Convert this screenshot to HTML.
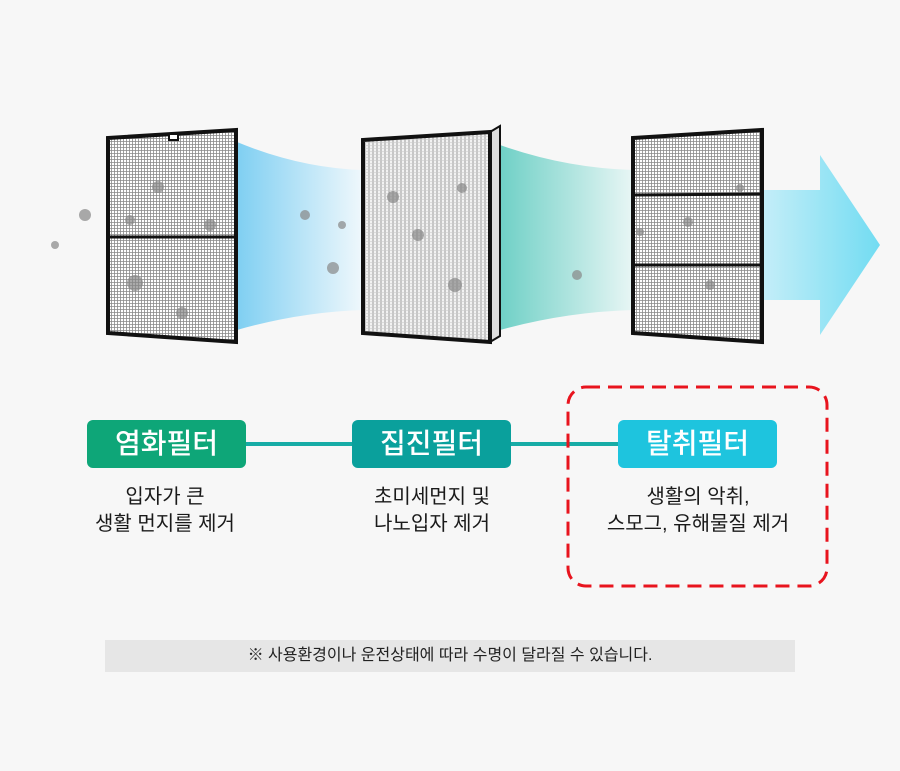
<!DOCTYPE html>
<html><head><meta charset="utf-8"><style>
body{margin:0;background:#f7f7f7;}
#c{position:relative;width:900px;height:771px;overflow:hidden;font-family:"Liberation Sans","Noto Sans CJK KR",sans-serif;}
.pill{position:absolute;top:420px;width:159px;height:48px;border-radius:6px;color:#fff;font-size:28px;text-align:center;line-height:48px;font-weight:500;}
.d{position:absolute;top:484px;width:300px;text-align:center;font-size:20px;line-height:27px;color:#1a1a1a;}
</style></head><body><div id="c">
<svg width="900" height="771" style="position:absolute;left:0;top:0">
<defs>
<pattern id="m" width="3" height="3" patternUnits="userSpaceOnUse"><rect width="3" height="3" fill="#fff"/><path d="M0 .5H3M.5 0V3" stroke="#888" stroke-width="0.8"/></pattern>
<pattern id="h" width="4" height="3" patternUnits="userSpaceOnUse"><rect width="4" height="3" fill="#f2f2f2"/><path d="M1 0V3" stroke="#999" stroke-width="1"/><path d="M0 1.5H4" stroke="#ccc" stroke-width=".6"/></pattern>
<linearGradient id="b1" x1="0" x2="1"><stop offset="0" stop-color="#7fcff2"/><stop offset="1" stop-color="#f0f8fc"/></linearGradient>
<linearGradient id="b2" x1="0" x2="1"><stop offset="0" stop-color="#6fd0c6"/><stop offset="1" stop-color="#e8f6f5"/></linearGradient>
<linearGradient id="b3" x1="0" x2="1"><stop offset="0" stop-color="#c5eef8"/><stop offset="1" stop-color="#72dcf2"/></linearGradient>
</defs>
<path d="M237 142 Q300 168 363 170 L363 310 Q300 312 237 330Z" fill="url(#b1)"/>
<path d="M500 145 Q565 168 633 170 L633 310 Q565 312 500 330Z" fill="url(#b2)"/>
<path d="M762 190 L820 190 L820 155 L880 245 L820 335 L820 300 L762 300Z" fill="url(#b3)"/>
<polygon points="108,138 236,130 236,342 108,333" fill="url(#m)" stroke="#111" stroke-width="4"/>
<line x1="108" y1="237" x2="236" y2="237" stroke="#111" stroke-width="3"/>
<rect x="169" y="134" width="9" height="6" fill="#fff" stroke="#111" stroke-width="2"/>
<polygon points="363,140 490,132 500,126 500,336 490,342 363,333" fill="#ddd" stroke="#111" stroke-width="2"/>
<polygon points="363,140 490,132 490,342 363,333" fill="url(#h)" stroke="#111" stroke-width="4"/>
<polygon points="633,138 762,130 762,342 633,333" fill="url(#m)" stroke="#111" stroke-width="4"/>
<line x1="633" y1="195" x2="762" y2="194" stroke="#111" stroke-width="3"/>
<line x1="633" y1="265" x2="762" y2="265" stroke="#111" stroke-width="3"/>
<g fill="#888" opacity=".7">
<circle cx="158" cy="187" r="6"/><circle cx="130" cy="220" r="5"/><circle cx="210" cy="225" r="6"/><circle cx="135" cy="283" r="8"/><circle cx="182" cy="313" r="6"/>
<circle cx="85" cy="215" r="6"/><circle cx="55" cy="245" r="4"/><circle cx="305" cy="215" r="5"/><circle cx="342" cy="225" r="4"/><circle cx="333" cy="268" r="6"/>
<circle cx="393" cy="197" r="6"/><circle cx="462" cy="188" r="5"/><circle cx="418" cy="235" r="6"/><circle cx="455" cy="285" r="7"/><circle cx="577" cy="275" r="5"/>
<circle cx="688" cy="222" r="5"/><circle cx="740" cy="188" r="4"/><circle cx="710" cy="285" r="5"/><circle cx="640" cy="232" r="4"/>
</g>
<line x1="246" y1="444" x2="618" y2="444" stroke="#17aca6" stroke-width="4"/>
<rect x="568" y="387" width="259" height="199" rx="18" fill="none" stroke="#e8141e" stroke-width="3" stroke-dasharray="14 8"/>
<rect x="105" y="640" width="690" height="32" fill="#e6e6e6"/>
</svg>
<div class="pill" style="left:87px;background:#0ea678">염화필터</div>
<div class="pill" style="left:352px;background:#0aa09c">집진필터</div>
<div class="pill" style="left:618px;background:#1ec4de">탈취필터</div>
<div class="d" style="left:15px">입자가 큰<br>생활 먼지를 제거</div>
<div class="d" style="left:282px">초미세먼지 및<br>나노입자 제거</div>
<div class="d" style="left:548px">생활의 악취,<br>스모그, 유해물질 제거</div>
<div style="position:absolute;left:105px;top:640px;width:690px;height:32px;line-height:32px;text-align:center;font-size:16px;color:#222">※ 사용환경이나 운전상태에 따라 수명이 달라질 수 있습니다.</div>
</div></body></html>
